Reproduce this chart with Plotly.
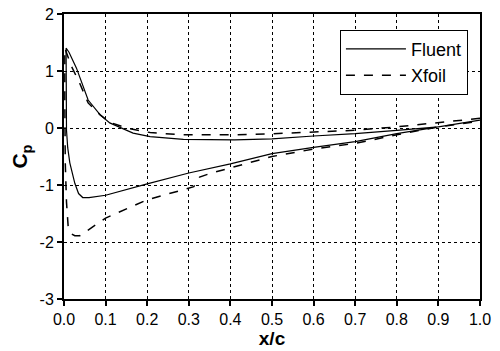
import plotly.graph_objects as go

# Fluent: pressure side (trailing edge -> leading edge), then suction side (LE -> TE)
fluent_x = [1.0, 0.9, 0.8, 0.7, 0.6, 0.5, 0.41, 0.287, 0.207, 0.166, 0.11, 0.087, 0.058, 0.045, 0.03, 0.012, 0.005,
            0.006, 0.009, 0.014, 0.02, 0.026, 0.035, 0.045, 0.06, 0.087, 0.1, 0.2, 0.3, 0.4, 0.5, 0.6, 0.7, 0.8, 0.9, 1.0]
fluent_cp = [0.14, 0.02, -0.04, -0.1, -0.14, -0.19, -0.21, -0.2, -0.15, -0.09, 0.09, 0.23, 0.49, 0.75, 1.05, 1.33, 1.40,
             -0.04, -0.35, -0.61, -0.82, -0.97, -1.15, -1.22, -1.22, -1.2, -1.18, -0.98, -0.79, -0.63, -0.45, -0.34, -0.24, -0.1, 0.02, 0.14]

# Xfoil: pressure side (TE -> LE), then suction side (LE -> TE)
xfoil_x = [1.0, 0.9, 0.8, 0.7, 0.6, 0.5, 0.41, 0.287, 0.207, 0.15, 0.11, 0.087, 0.058, 0.038, 0.018, 0.002,
           0.002, 0.003, 0.006, 0.01, 0.018, 0.026, 0.038, 0.058, 0.1, 0.2, 0.3, 0.312, 0.326, 0.35, 0.4, 0.5, 0.6, 0.7, 0.8, 0.9, 1.0]
xfoil_cp = [0.17, 0.09, 0.02, -0.04, -0.075, -0.1, -0.12, -0.12, -0.08, 0.0, 0.1, 0.23, 0.44, 0.78, 1.08, 1.40,
            0.5, -0.6, -1.3, -1.73, -1.86, -1.89, -1.89, -1.79, -1.58, -1.26, -1.05, -1.03, -0.86, -0.8, -0.7, -0.5, -0.37, -0.27, -0.12, 0.02, 0.12]

x_ticks = [0.0, 0.1, 0.2, 0.3, 0.4, 0.5, 0.6, 0.7, 0.8, 0.9, 1.0]
y_ticks = [-3, -2, -1, 0, 1, 2]

fig = go.Figure()
fig.add_trace(go.Scatter(x=fluent_x, y=fluent_cp, mode="lines", name="Fluent",
                         line=dict(color="black", width=1.2)))
fig.add_trace(go.Scatter(x=xfoil_x, y=xfoil_cp, mode="lines", name="Xfoil",
                         line=dict(color="black", width=1.5, dash="dash")))

axis_common = dict(showline=True, linecolor="black", linewidth=2, mirror=True,
                   ticks="outside", ticklen=5, tickwidth=1.5, tickcolor="black",
                   showgrid=True, gridcolor="black", gridwidth=1, griddash="dot",
                   zeroline=False, automargin=False,
                   tickfont=dict(family="Arial, Liberation Sans", size=16, color="black"))

fig.update_xaxes(range=[0, 1.0], tickvals=x_ticks, ticktext=[f"{v:.1f}" for v in x_ticks],
                 title=dict(text="<b>x/c</b>", font=dict(family="Arial, Liberation Sans", size=19, color="black"), standoff=2),
                 **axis_common)
fig.update_yaxes(range=[-3, 2], tickvals=y_ticks, ticktext=[str(v) for v in y_ticks],
                 title=dict(text="<b>C<sub>p</sub></b>", font=dict(family="Arial, Liberation Sans", size=21, color="black"), standoff=6),
                 **axis_common)

fig.update_layout(
    width=500, height=351,
    margin=dict(l=64, r=20, t=14, b=52),
    plot_bgcolor="white", paper_bgcolor="white",
    legend=dict(x=0.971, y=0.945, xanchor="right", yanchor="top",
                bgcolor="white", bordercolor="black", borderwidth=1,
                font=dict(family="Arial, Liberation Sans", size=18, color="black"),
                itemwidth=60, tracegroupgap=0),
    showlegend=True,
)

fig.write_html("out.html", post_script="document.body.style.margin='0px';",
               config={"displayModeBar": False})
